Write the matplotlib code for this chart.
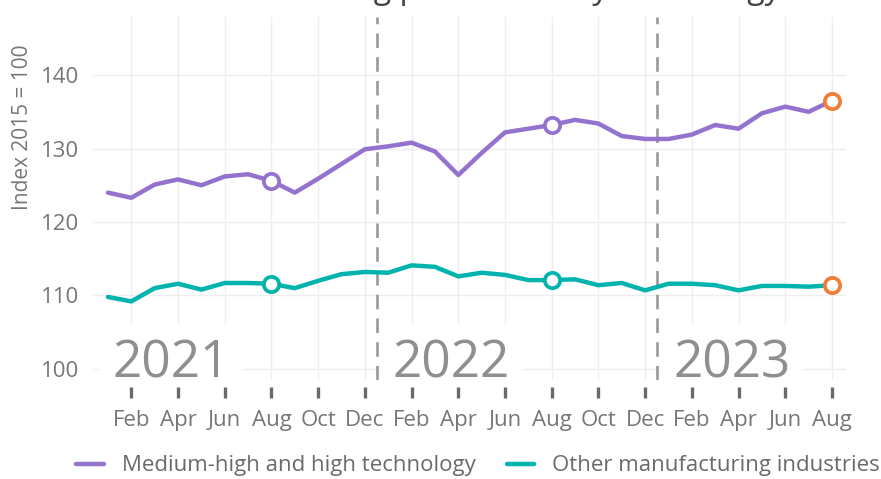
import numpy as np
import matplotlib
matplotlib.use("Agg")
import matplotlib.pyplot as plt

plt.rcParams['font.family'] = ['Open Sans', 'DejaVu Sans']

# ---- data ----
month_labels = ["Jan", "Feb", "Mar", "Apr", "May", "Jun", "Jul", "Aug", "Sep", "Oct", "Nov", "Dec"]
years = ["2021", "2022", "2023"]
months_per_year = [12, 12, 8]

high_tech = [124.0, 123.3, 125.1, 125.8, 125.0, 126.2, 126.5, 125.6, 124.0, 125.9, 127.9, 129.9,
             130.3, 130.8, 129.6, 126.4, 129.4, 132.2, 132.7, 133.2, 133.9, 133.4, 131.7, 131.3,
             131.3, 131.9, 133.2, 132.7, 134.8, 135.7, 135.0, 136.5]
other_manuf = [109.8, 109.2, 111.0, 111.6, 110.8, 111.7, 111.7, 111.6, 111.0, 112.0, 112.9, 113.2,
               113.1, 114.1, 113.9, 112.6, 113.1, 112.8, 112.1, 112.1, 112.2, 111.4, 111.7, 110.7,
               111.6, 111.6, 111.4, 110.7, 111.3, 111.3, 111.2, 111.4]
series_names = ["Medium-high and high technology", "Other manufacturing industries"]
y_ticks = [100, 110, 120, 130, 140]
title = "Manufacturing production by technology"
y_label = "Index 2015 = 100"

# ---- derived ----
month_names = [month_labels[m] for n in months_per_year for m in range(n)]
x = np.arange(len(high_tech))
year_start = np.cumsum([0] + months_per_year[:-1])
highlight = [i for i, m in enumerate(month_names) if m == "Aug"]

purple = "#9473cf"
teal = "#00b3ad"
orange = "#f27b35"
grey_txt = "#767676"

W, H = 881, 479
fig = plt.figure(figsize=(W / 100, H / 100), dpi=100)
L, R, T, B = 93, 846, 17, 380
ax = fig.add_axes([L / W, 1 - B / H, (R - L) / W, (B - T) / H])

ax.set_xlim(-0.64, 31.6)
ax.set_ylim(98.5, 147.9)

for s in ax.spines.values():
    s.set_visible(False)
ax.spines['bottom'].set_position(('outward', 5))

tick_idx = [i for i in x if i % 2 == 1]
ax.set_xticks(tick_idx)
ax.set_xticklabels([month_names[i] for i in tick_idx])
ax.set_yticks(y_ticks)
ax.tick_params(axis='x', length=8, width=2.4, color="#6a6a6a", pad=8.5,
               labelsize=16, labelcolor=grey_txt)
ax.tick_params(axis='y', length=0, pad=10, labelsize=16, labelcolor=grey_txt)

ax.grid(True, color="#eeeeee", linewidth=1.0)
ax.set_axisbelow(True)

# year separators
for ys in year_start[1:]:
    ax.axvline(ys - 0.5, color="#999999", lw=1.9, ls=(0, (5.5, 3.5)), zorder=1.5)

ax.plot(x, high_tech, color=purple, lw=3.2, solid_capstyle='round', zorder=3,
        label=series_names[0])
ax.plot(x, other_manuf, color=teal, lw=3.2, solid_capstyle='round', zorder=3,
        label=series_names[1])

for i in highlight:
    last = (i == x[-1])
    ax.plot(x[i], high_tech[i], 'o', ms=11, mfc='white', mec=orange if last else purple,
            mew=2.7, zorder=4)
    ax.plot(x[i], other_manuf[i], 'o', ms=11, mfc='white', mec=orange if last else teal,
            mew=2.7, zorder=4)

# big year labels
for ys, yr in zip(year_start, years):
    ax.text(ys + 0.2, 98.9, yr, fontsize=37, color="#8f8f8f", ha='left', va='baseline',
            zorder=2, clip_on=True,
            bbox=dict(boxstyle='square,pad=0.25', fc='white', ec='none'))

fig.text(23 / W, 1 - 127 / H, y_label, rotation=90, ha='center', va='center',
         fontsize=15, color=grey_txt)

# title: only its lower edge lies inside the picture, as in the reference
fig.text(476 / W, 1 + 2.5 / H, title, ha='center', va='baseline', fontsize=23, color="#444444")

fig.legend(loc='center', bbox_to_anchor=(478 / W, 1 - 466 / H), ncol=2, frameon=False,
           fontsize=16, labelcolor="#6a6a6a", handlelength=1.25, handletextpad=0.8,
           columnspacing=1.4)

fig.savefig("out.png", dpi=100)
